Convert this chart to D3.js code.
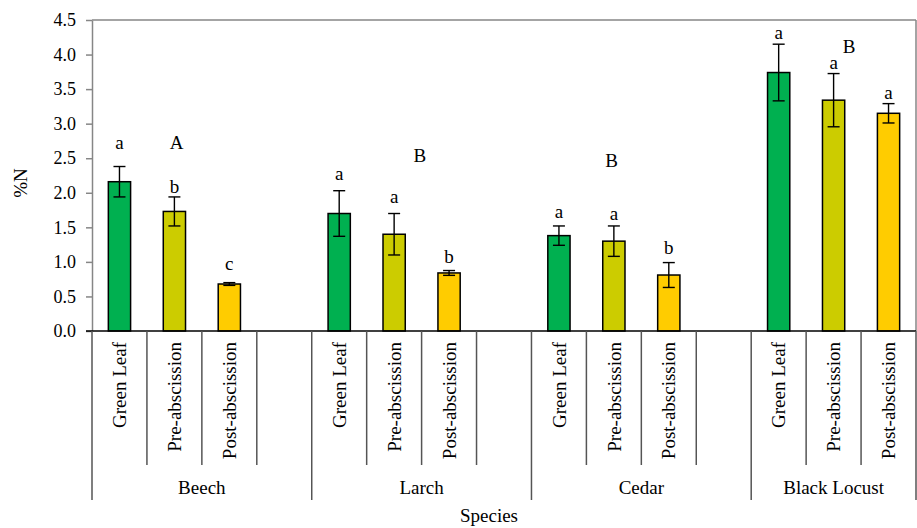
<!DOCTYPE html>
<html>
<head>
<meta charset="utf-8">
<script src="https://cdn.jsdelivr.net/npm/d3@7"></script>
<style>
  html, body { margin: 0; padding: 0; background: #fff; }
  svg { display: block; font-family: "Liberation Serif", "Times New Roman", serif; }
</style>
</head>
<body>
<svg id="chart" width="917" height="528"></svg>
<script>
// Leaf nitrogen (%N) by species and leaf stage
const species = ["Beech", "Larch", "Cedar", "Black Locust"];
const stages = ["Green Leaf", "Pre-abscission", "Post-abscission"];
const stageColors = ["#00B050", "#CCCC00", "#FFCC00"];

// mean %N per species (rows) and stage (columns)
const meanN = [
  [2.16, 1.73, 0.68],
  [1.70, 1.40, 0.84],
  [1.38, 1.30, 0.81],
  [3.74, 3.34, 3.15]
];
// standard error per species and stage
const errN = [
  [0.22, 0.21, 0.02],
  [0.33, 0.30, 0.035],
  [0.14, 0.22, 0.18],
  [0.41, 0.385, 0.14]
];
// significance letters within each species, and the height (in %N) they sit at
const stageLetters = [
  ["a", "b", "c"],
  ["a", "a", "b"],
  ["a", "a", "b"],
  ["a", "a", "a"]
];
const stageLetterY = [
  [2.63, 2.00, 0.88],
  [2.19, 1.85, 0.98],
  [1.64, 1.60, 1.11],
  [4.22, 3.79, 3.35]
];
// significance letters between species: label, slot offset within group, height in %N
const speciesLetters = ["A", "B", "B", "B"];
const speciesLetterSlot = [1.54, 1.97, 1.46, 1.78];
const speciesLetterY = [2.63, 2.45, 2.375, 4.02];

const yTicks = [0, 0.5, 1, 1.5, 2, 2.5, 3, 3.5, 4, 4.5];

// each species takes four category slots (three stages and a spacer); the last has no spacer
const slotsPerGroup = 4;
const nSlots = species.length * slotsPerGroup - 1;

const svg = d3.select("#chart");
const mLeft = 92, mRight = 916, mTop = 20, mBottom = 331;

const x = d3.scaleBand().domain(d3.range(nSlots)).range([mLeft, mRight]).paddingInner(0).paddingOuter(0);
const y = d3.scaleLinear().domain([0, 4.5]).range([mBottom, mTop]);
const bw = x.bandwidth();
const barW = bw * 0.405;

// flat list of bars
const bars = [];
species.forEach((sp, i) => {
  stages.forEach((st, j) => {
    bars.push({
      sp: i, st: j, slot: i * slotsPerGroup + j,
      value: meanN[i][j], err: errN[i][j],
      letter: stageLetters[i][j], letterY: stageLetterY[i][j]
    });
  });
});

// plot frame (top and right)
svg.append("line").attr("x1", mLeft).attr("x2", mRight).attr("y1", mTop).attr("y2", mTop)
  .attr("stroke", "#868686").attr("stroke-width", 1.5);
svg.append("line").attr("x1", mRight).attr("x2", mRight).attr("y1", mTop).attr("y2", mBottom)
  .attr("stroke", "#868686").attr("stroke-width", 1.5);

// y axis
const yAxis = d3.axisLeft(y).tickValues(yTicks).tickFormat(d3.format(".1f"))
  .tickSizeInner(6).tickSizeOuter(0).tickPadding(10);
const yG = svg.append("g").attr("transform", `translate(${mLeft},0)`).call(yAxis);
yG.select(".domain").attr("stroke", "#868686").attr("stroke-width", 1.5);
yG.selectAll(".tick line").attr("stroke", "#868686").attr("stroke-width", 1.5);
yG.selectAll(".tick text").attr("fill", "#000").style("font-size", "18px")
  .style("font-family", "'Liberation Serif', 'Times New Roman', serif");

// bars
svg.append("g").selectAll("rect").data(bars).join("rect")
  .attr("x", d => x(d.slot) + (bw - barW) / 2)
  .attr("y", d => y(d.value))
  .attr("width", barW)
  .attr("height", d => y(0) - y(d.value))
  .attr("fill", d => stageColors[d.st])
  .attr("stroke", "#000")
  .attr("stroke-width", 1.5);

// error bars
const cap = 12;
const eg = svg.append("g").attr("stroke", "#000").attr("stroke-width", 1.4);
bars.forEach(d => {
  const cx = x(d.slot) + bw / 2;
  eg.append("line").attr("x1", cx).attr("x2", cx).attr("y1", y(d.value + d.err)).attr("y2", y(d.value - d.err));
  eg.append("line").attr("x1", cx - cap / 2).attr("x2", cx + cap / 2).attr("y1", y(d.value + d.err)).attr("y2", y(d.value + d.err));
  eg.append("line").attr("x1", cx - cap / 2).attr("x2", cx + cap / 2).attr("y1", y(d.value - d.err)).attr("y2", y(d.value - d.err));
});

// letters over bars
svg.append("g").selectAll("text").data(bars).join("text")
  .attr("x", d => x(d.slot) + bw / 2)
  .attr("y", d => y(d.letterY))
  .attr("text-anchor", "middle")
  .style("font-size", "19px")
  .text(d => d.letter);

// letters between species
svg.append("g").selectAll("text").data(species).join("text")
  .attr("x", (d, i) => mLeft + (i * slotsPerGroup + speciesLetterSlot[i]) * bw)
  .attr("y", (d, i) => y(speciesLetterY[i]))
  .attr("text-anchor", "middle")
  .style("font-size", "19px")
  .text((d, i) => speciesLetters[i]);

// x axis line
svg.append("line").attr("x1", mLeft - 6).attr("x2", mRight).attr("y1", mBottom).attr("y2", mBottom)
  .attr("stroke", "#000").attr("stroke-width", 1.5);

// category separators: short between stages, long between species
const sepG = svg.append("g").attr("stroke", "#555").attr("stroke-width", 1.5);
d3.range(nSlots + 1).forEach(k => {
  const xx = k < nSlots ? x(k) : mRight;
  const long = (k % slotsPerGroup === 0) || k === nSlots;
  sepG.append("line").attr("x1", xx).attr("x2", xx)
    .attr("y1", mBottom).attr("y2", long ? 500 : 465);
});

// stage labels (rotated)
svg.append("g").selectAll("text").data(bars).join("text")
  .attr("transform", d => `translate(${x(d.slot) + bw / 2},342) rotate(-90)`)
  .attr("text-anchor", "end")
  .attr("dy", "0.35em")
  .style("font-size", "19px")
  .text(d => stages[d.st]);

// species labels
svg.append("g").selectAll("text").data(species).join("text")
  .attr("x", (d, i) => {
    const a = x(i * slotsPerGroup);
    const b = i < species.length - 1 ? x((i + 1) * slotsPerGroup) : mRight;
    return (a + b) / 2;
  })
  .attr("y", 494)
  .attr("text-anchor", "middle")
  .style("font-size", "19px")
  .text(d => d);

// axis titles
svg.append("text").attr("x", 489).attr("y", 521.5).attr("text-anchor", "middle")
  .style("font-size", "19px").text("Species");
svg.append("text").attr("transform", "translate(20.5,183) rotate(-90)")
  .attr("text-anchor", "middle").attr("dy", "0.35em")
  .style("font-size", "19px").text("%N");
</script>
</body>
</html>
